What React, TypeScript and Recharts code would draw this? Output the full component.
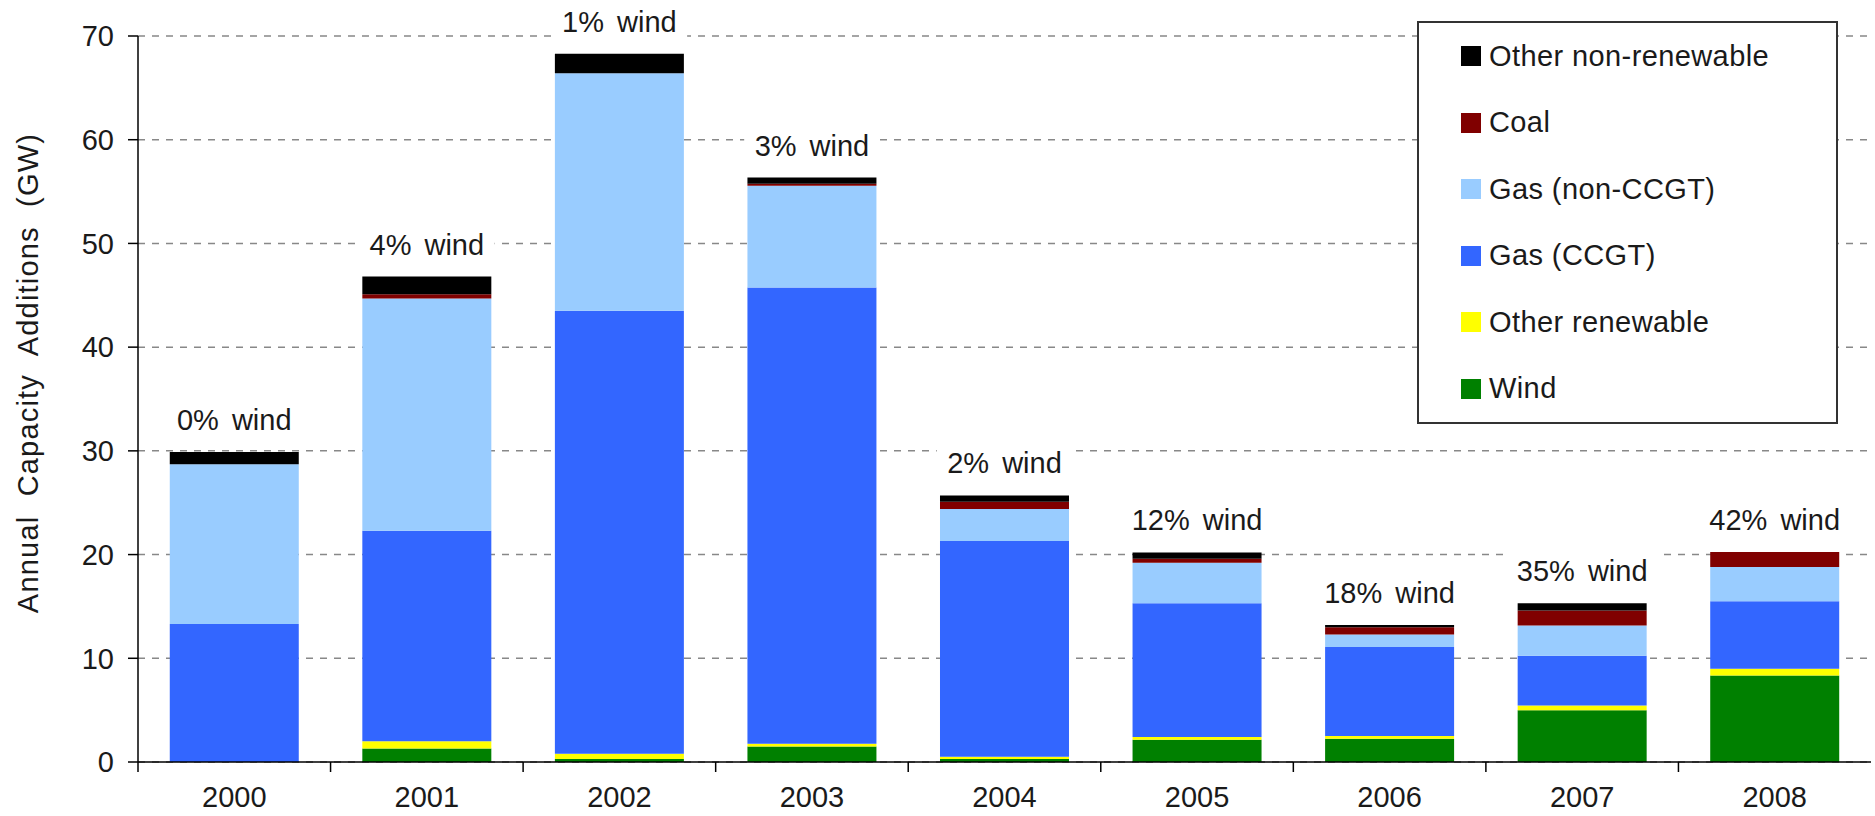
import { BarChart, Bar, XAxis, YAxis, CartesianGrid, Legend, LabelList, Label } from "recharts";

const years = ["2000", "2001", "2002", "2003", "2004", "2005", "2006", "2007", "2008"];
const wind = [0, 1.3, 0.3, 1.5, 0.3, 2.15, 2.25, 5.0, 8.35];
const otherRenewable = [0, 0.7, 0.5, 0.25, 0.2, 0.25, 0.25, 0.45, 0.65];
const gasCcgt = [13.3, 20.3, 42.7, 44.0, 20.8, 12.9, 8.6, 4.8, 6.5];
const gasNonCcgt = [15.4, 22.4, 22.9, 9.8, 3.1, 3.9, 1.2, 2.9, 3.3];
const coal = [0, 0.4, 0, 0.2, 0.7, 0.4, 0.7, 1.45, 1.45];
const otherNonRenewable = [1.2, 1.7, 1.9, 0.6, 0.6, 0.6, 0.2, 0.7, 0];
const windShare = ["0% wind", "4% wind", "1% wind", "3% wind", "2% wind", "12% wind", "18% wind", "35% wind", "42% wind"];
const yTicks = [0, 10, 20, 30, 40, 50, 60, 70];

// bottom of the stack first
const series = [
  { key: "wind", name: "Wind", color: "#008000", values: wind },
  { key: "otherRenewable", name: "Other renewable", color: "#FFFF00", values: otherRenewable },
  { key: "gasCcgt", name: "Gas (CCGT)", color: "#3366FF", values: gasCcgt },
  { key: "gasNonCcgt", name: "Gas (non-CCGT)", color: "#99CCFF", values: gasNonCcgt },
  { key: "coal", name: "Coal", color: "#800000", values: coal },
  { key: "otherNonRenewable", name: "Other non-renewable", color: "#000000", values: otherNonRenewable },
];

const data = years.map((year, i) => ({
  year,
  wind: wind[i],
  otherRenewable: otherRenewable[i],
  gasCcgt: gasCcgt[i],
  gasNonCcgt: gasNonCcgt[i],
  coal: coal[i],
  otherNonRenewable: otherNonRenewable[i],
  share: windShare[i],
}));

// highest non-empty segment of each column, so the share label sits on top of it
const topSeries = years.map((_, i) => {
  let top = 0;
  series.forEach((s, k) => {
    if (s.values[i] > 0) top = k;
  });
  return top;
});

const W = 1875;
const H = 816;
const margin = { top: 36, right: 4, left: 0, bottom: 0 };
const Y_AXIS_W = 138;
const band = (W - margin.left - margin.right - Y_AXIS_W) / years.length;
const FONT = "'Liberation Sans', Arial, sans-serif";
const FS = 29;
const TEXT = "#1a1a1a";

function YearTick(props: any) {
  const { x, y, payload } = props;
  const left = x - band / 2;
  return (
    <g>
      <line x1={left} y1={y} x2={left} y2={y + 10} stroke="#000" strokeWidth={1.5} />
      <text x={x} y={y + 45} textAnchor="middle" fill={TEXT} fontSize={FS} fontFamily={FONT}>
        {payload.value}
      </text>
    </g>
  );
}

function makeShareLabel(seriesIndex: number) {
  return function ShareLabel(props: any) {
    const { x, y, width, value } = props;
    const col = windShare.indexOf(String(value));
    if (col < 0 || topSeries[col] !== seriesIndex) return null;
    const cx = Number(x) + Number(width) / 2;
    const w = String(value).length * 16.5 + 20;
    return (
      <g>
        <rect x={cx - w / 2} y={y - 52} width={w} height={38} fill="#fff" />
        <text
          x={cx}
          y={y - 22}
          textAnchor="middle"
          fill={TEXT}
          fontSize={FS}
          fontFamily={FONT}
          style={{ wordSpacing: 5 }}
        >
          {value}
        </text>
      </g>
    );
  };
}

function AxisTitle(props: any) {
  const vb = props.viewBox;
  const cx = vb.x + 28;
  const cy = vb.y + vb.height / 2 - 26;
  return (
    <text
      x={cx}
      y={cy}
      transform={`rotate(-90, ${cx}, ${cy})`}
      textAnchor="middle"
      dominantBaseline="central"
      fill={TEXT}
      fontSize={FS}
      fontFamily={FONT}
      style={{ letterSpacing: 1.2, wordSpacing: 10 }}
    >
      Annual Capacity Additions (GW)
    </text>
  );
}

function LegendBox() {
  const items = [...series].reverse();
  return (
    <div
      style={{
        width: 421,
        height: 403,
        boxSizing: "border-box",
        border: "2px solid #333",
        background: "#fff",
        fontFamily: FONT,
        fontSize: FS,
        color: TEXT,
        letterSpacing: 0.4,
      }}
    >
      {items.map((it) => (
        <div key={it.key} style={{ height: 66.5, display: "flex", alignItems: "center", paddingLeft: 42 }}>
          <span style={{ width: 20, height: 20, background: it.color, marginRight: 8, display: "inline-block" }} />
          <span>{it.name}</span>
        </div>
      ))}
    </div>
  );
}

export default function App() {
  return (
    <div style={{ position: "absolute", left: 0, top: 0, width: W, height: H, background: "#fff" }}>
      <BarChart width={W} height={H} data={data} margin={margin} barCategoryGap="16.5%">
        <CartesianGrid vertical={false} stroke="#888" strokeWidth={1.5} strokeDasharray="7 7" />
        <XAxis
          dataKey="year"
          height={54}
          tickSize={0}
          tickMargin={0}
          tickLine={false}
          interval={0}
          axisLine={{ stroke: "#000", strokeWidth: 1.5 }}
          tick={<YearTick />}
        />
        <YAxis
          width={Y_AXIS_W}
          domain={[0, 70]}
          ticks={yTicks}
          interval={0}
          tickSize={10}
          tickMargin={14}
          axisLine={{ stroke: "#000", strokeWidth: 1.5 }}
          tickLine={{ stroke: "#000", strokeWidth: 1.5 }}
          tick={{ fill: TEXT, fontSize: FS, fontFamily: FONT }}
        >
          <Label content={<AxisTitle />} />
        </YAxis>
        <Legend
          layout="horizontal"
          verticalAlign="middle"
          align="center"
          wrapperStyle={{ left: 1417, top: 21, width: 421, height: 403 }}
          content={<LegendBox />}
        />
        {series.map((s, k) => (
          <Bar key={s.key} dataKey={s.key} name={s.name} stackId="a" fill={s.color} isAnimationActive={false}>
            <LabelList dataKey="share" content={makeShareLabel(k)} />
          </Bar>
        ))}
      </BarChart>
    </div>
  );
}
